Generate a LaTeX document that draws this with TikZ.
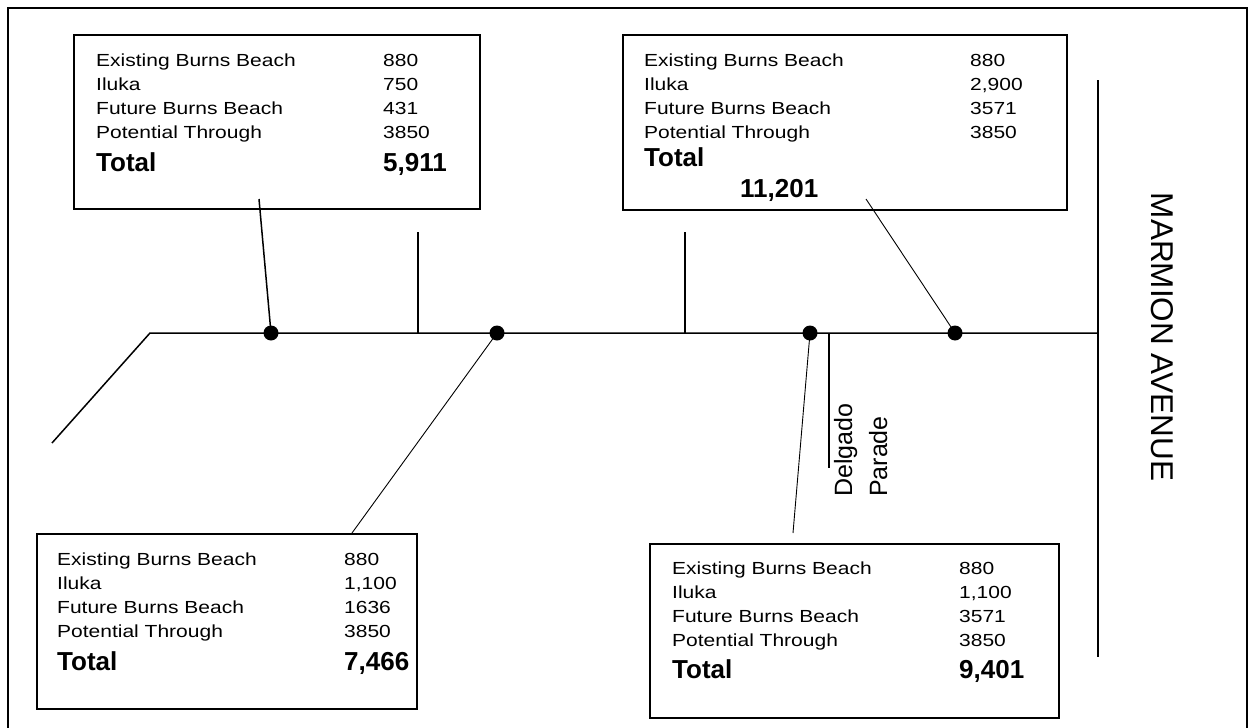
\documentclass[tikz,border=0pt]{standalone}
\usepackage{fontspec}
\setmainfont{Liberation Sans}
\newfontfamily\rowfont{Liberation Sans}[FakeStretch=1.2]
\usetikzlibrary{positioning,calc}

\tikzset{
  countbox/.style={draw, line width=1.5pt, inner sep=0pt, anchor=north west},
  road/.style={line width=1.5pt},
  leader/.style={line width=0.9pt},
  junction/.style={circle, fill, inner sep=0pt, minimum size=15pt},
  rows/.style={inner sep=0pt, anchor=base west, font=\rowfont\fontsize{17.5}{24}\selectfont},
  totaltext/.style={inner sep=0pt, anchor=base west, font=\bfseries\fontsize{26}{30}\selectfont},
  streetname/.style={inner sep=0pt, font=\fontsize{25}{30}\selectfont},
}

\begin{document}
\begin{tikzpicture}[x=1pt,y=-1pt]
\useasboundingbox (0,0) rectangle (1253,728);
% cadre
\draw[line width=1.5pt] (8,730) -- (8,8) -- (1247,8) -- (1247,730);

% routes
\coordinate (bend) at (150,333);
\coordinate (westend) at (52,443);
\coordinate (marmionN) at (1098,80);
\coordinate (marmionS) at (1098,657);
\coordinate (mainE) at (1098,333);
\draw[road] (westend) -- (bend) -- (mainE);
\draw[road] (marmionN) -- (marmionS);
\draw[road] (418,232) coordinate (sideA) -- (418,333) coordinate (sideAfoot);
\draw[road] (685,232) coordinate (sideB) -- (685,333) coordinate (sideBfoot);
\draw[road] (829,333) coordinate (delgadoN) -- (829,468) coordinate (delgadoS);

% noms des rues
\node[streetname, font=\fontsize{31.5}{36}\selectfont, rotate=-90] (marmion) at (1162,337) {MARMION AVENUE};
\node[streetname, rotate=90, anchor=base west] (delgado) at (852,497) {Delgado};
\node[streetname, rotate=90, anchor=base west] (parade) at (887,497) {Parade};

% points de comptage
\node[junction] (jA) at (271,333) {};
\node[junction] (jC) at (497,333) {};
\node[junction] (jD) at (810,333) {};
\node[junction] (jB) at (955,333) {};

% boite haut gauche
\node[countbox, minimum width=406pt, minimum height=174pt] (boxA) at (73,34) {};
\node[rows] (rowsA) at (96,66) {\begin{tabular}[t]{@{}p{287pt}@{}l@{}}
Existing Burns Beach & 880\\ Iluka & 750\\ Future Burns Beach & 431\\ Potential Through & 3850
\end{tabular}};
\node[totaltext] (totA) at (96,171) {Total};
\node[totaltext] (sumA) at (383,171) {5,911};

% boite haut droite
\node[countbox, minimum width=444pt, minimum height=175pt] (boxB) at (622,34) {};
\node[rows] (rowsB) at (644,66) {\begin{tabular}[t]{@{}p{326pt}@{}l@{}}
Existing Burns Beach & 880\\ Iluka & 2,900\\ Future Burns Beach & 3571\\ Potential Through & 3850
\end{tabular}};
\node[totaltext] (totB) at (644,166) {Total};
\node[totaltext] (sumB) at (740,197) {11,201};

% boite bas gauche
\node[countbox, minimum width=380pt, minimum height=175pt] (boxC) at (36,533) {};
\node[rows] (rowsC) at (57,565) {\begin{tabular}[t]{@{}p{287pt}@{}l@{}}
Existing Burns Beach & 880\\ Iluka & 1,100\\ Future Burns Beach & 1636\\ Potential Through & 3850
\end{tabular}};
\node[totaltext] (totC) at (57,670) {Total};
\node[totaltext] (sumC) at (344,670) {7,466};

% boite bas droite
\node[countbox, minimum width=409pt, minimum height=174pt] (boxD) at (649,543) {};
\node[rows] (rowsD) at (672,574) {\begin{tabular}[t]{@{}p{287pt}@{}l@{}}
Existing Burns Beach & 880\\ Iluka & 1,100\\ Future Burns Beach & 3571\\ Potential Through & 3850
\end{tabular}};
\node[totaltext] (totD) at (672,678) {Total};
\node[totaltext] (sumD) at (959,678) {9,401};

% traits de rappel
\coordinate (legA) at (259,199);
\coordinate (legB) at (866,199);
\coordinate (legC) at (352,533);
\coordinate (legD) at (793,533);
\draw[leader, line width=1.5pt] (legA) -- (jA.center);
\draw[leader] (legB) -- (jB.center);
\draw[leader] (jC.center) -- (legC);
\draw[leader] (jD.center) -- (legD);
\end{tikzpicture}
\end{document}
